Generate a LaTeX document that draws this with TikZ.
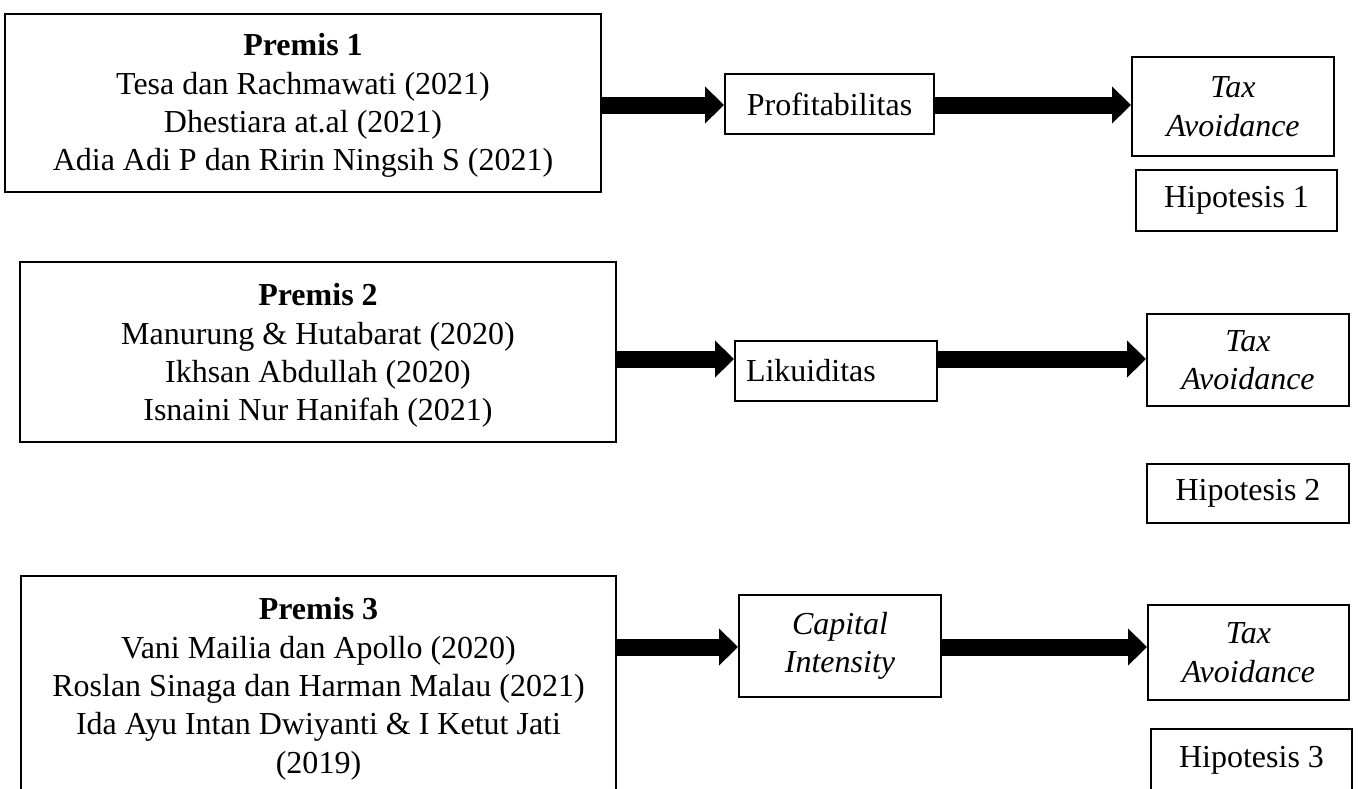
\documentclass[tikz,border=0pt]{standalone}
\usepackage{fontspec}
\setmainfont{Liberation Serif}
\usetikzlibrary{arrows.meta, calc, positioning}

\tikzset{
  box/.style={draw, line width=1pt, inner sep=0pt, font=\fontsize{16}{19.2}\selectfont, align=center},
  txt/.style={inner sep=0pt, font=\fontsize{16}{19.2}\selectfont, align=center},
  blockarrow/.style={line width=8.5pt, -{Triangle[length=9.5pt, width=18pt]}},
}

\begin{document}
\begin{tikzpicture}[x=0.5pt, y=-0.5pt]
  \useasboundingbox (0,0) rectangle (1358,788);
  \clip (0,0) rectangle (1358,788);

  % rows of the arrows
  \coordinate (r1) at (0,105);
  \coordinate (r2) at (0,359);
  \coordinate (r3) at (0,647);

  % premis boxes
  \node[box, minimum width=298pt, minimum height=89pt] (p1) at (303,103) {};
  \node[txt, anchor=north] (p1txt) at ($(p1.north)+(0,20)$)
    {\textbf{Premis 1}\\Tesa dan Rachmawati (2021)\\Dhestiara at.al (2021)\\Adia Adi P dan Ririn Ningsih S (2021)};
  \node[box, minimum width=298pt, minimum height=90pt] (p2) at (318,352) {};
  \node[txt, anchor=north] (p2txt) at ($(p2.north)+(0,22)$)
    {\textbf{Premis 2}\\Manurung \& Hutabarat (2020)\\Ikhsan Abdullah (2020)\\Isnaini Nur Hanifah (2021)};
  \node[box, minimum width=297.5pt, minimum height=128pt] (p3) at (318.5,704) {};
  \node[txt, anchor=north] (p3txt) at ($(p3.north)+(0,22)$)
    {\textbf{Premis 3}\\Vani Mailia dan Apollo (2020)\\Roslan Sinaga dan Harman Malau (2021)\\Ida Ayu Intan Dwiyanti \& I Ketut Jati\\(2019)};

  % variables
  \node[box, minimum width=104.5pt, minimum height=30pt] (prof) at (829.5,104) {Profitabilitas};
  \node[box, minimum width=101pt, minimum height=30pt, text width=90pt, align=left, inner xsep=5.5pt] (lik) at (836,371) {Likuiditas};
  \node[box, minimum width=101pt, minimum height=51pt] (cap) at (840,646) {\textit{Capital}\\\textit{Intensity}};

  % tax avoidance
  \node[box, minimum width=101pt, minimum height=49.5pt] (tax1) at (1233,106.5) {\textit{Tax}\\\textit{Avoidance}};
  \node[box, minimum width=101pt, minimum height=46pt] (tax2) at (1248,360) {\textit{Tax}\\\textit{Avoidance}};
  \node[box, minimum width=100.5pt, minimum height=47.5pt] (tax3) at (1248.5,652.5) {\textit{Tax}\\\textit{Avoidance}};

  % hipotesis
  \node[box, minimum width=100.5pt, minimum height=30.5pt] (hip1) at (1236.5,200) {Hipotesis 1};
  \node[box, minimum width=101pt, minimum height=29.5pt] (hip2) at (1248,493.5) {Hipotesis 2};
  \node[box, minimum width=100.5pt, minimum height=31pt] (hip3) at (1251.5,760) {Hipotesis 3};

  % arrows
  \draw[blockarrow] (p1.east |- r1) -- (prof.west |- r1);
  \draw[blockarrow] (prof.east |- r1) -- (tax1.west |- r1);
  \draw[blockarrow] (p2.east |- r2) -- (lik.west |- r2);
  \draw[blockarrow] (lik.east |- r2) -- (tax2.west |- r2);
  \draw[blockarrow] (p3.east |- r3) -- (cap.west |- r3);
  \draw[blockarrow] (cap.east |- r3) -- (tax3.west |- r3);
\end{tikzpicture}
\end{document}
